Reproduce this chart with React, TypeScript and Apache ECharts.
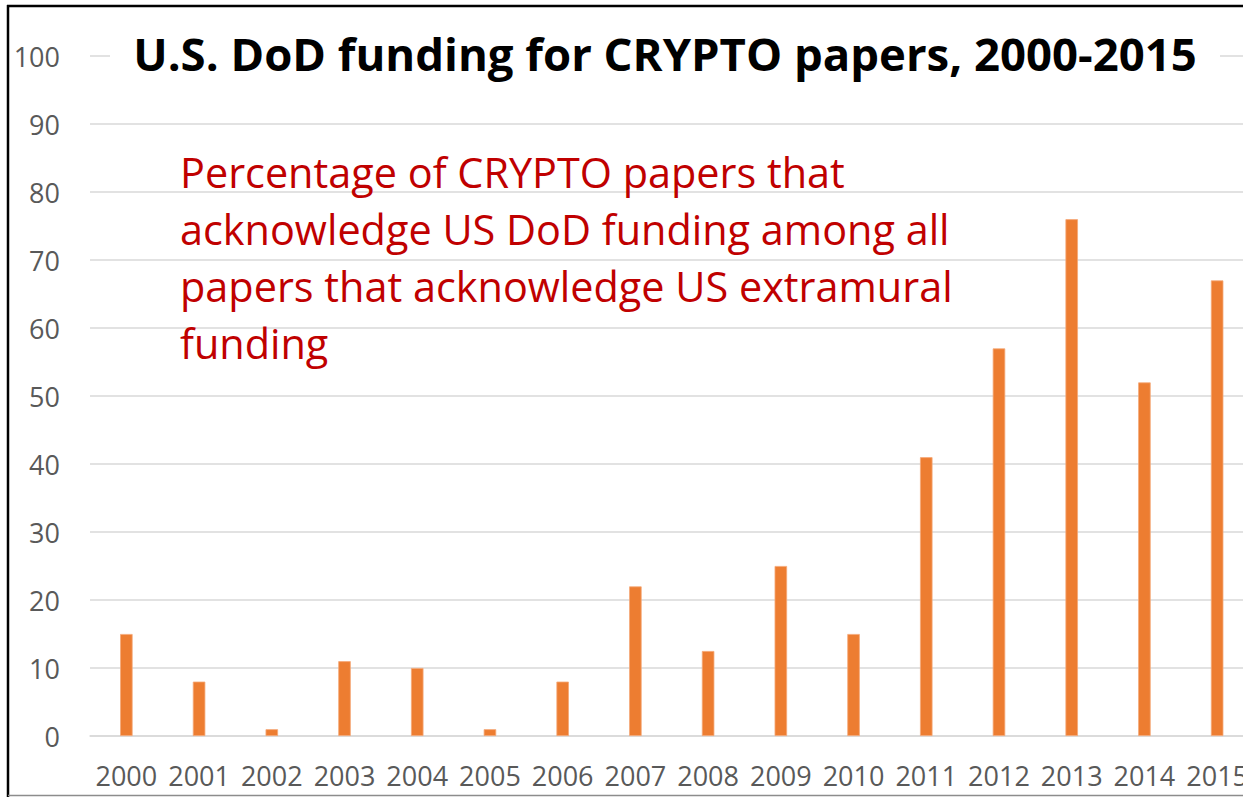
import React, { useEffect, useRef } from "react";
import * as echarts from "echarts";

const years = ["2000","2001","2002","2003","2004","2005","2006","2007","2008","2009","2010","2011","2012","2013","2014","2015"];
const values = [15, 8, 1, 11, 10, 1, 8, 22, 12.5, 25, 15, 41, 57, 76, 52, 67];
const titleText = "U.S. DoD funding for CRYPTO papers, 2000-2015";
const noteLines = [
  "Percentage of CRYPTO papers that",
  "acknowledge US DoD funding among all",
  "papers that acknowledge US extramural",
  "funding",
];

export default function App() {
  const ref = useRef<HTMLDivElement>(null);
  useEffect(() => {
    if (!ref.current) return;
    const chart = echarts.init(ref.current, null, { renderer: "svg" });
    const font = "'Open Sans', sans-serif";
    chart.setOption({
      animation: false,
      backgroundColor: "#ffffff",
      grid: { left: 90, top: 56, bottom: 61, right: 16.5 },
      xAxis: {
        type: "category",
        data: years,
        axisLine: { show: true, lineStyle: { color: "#d9d9d9", width: 1.5 } },
        axisTick: { show: false },
        axisLabel: { color: "#595959", fontSize: 27, fontFamily: font, margin: 26, interval: 0 },
      },
      yAxis: {
        type: "value",
        min: 0,
        max: 100,
        interval: 10,
        axisLine: { show: false },
        axisTick: { show: false },
        axisLabel: { color: "#595959", fontSize: 27, fontFamily: font, margin: 30 },
        splitLine: { lineStyle: { color: "#d9d9d9", width: 1.5 } },
      },
      series: [
        {
          type: "bar",
          data: values,
          barWidth: 12.5,
          itemStyle: { color: "#ED7D31", borderColor: "#F5A877", borderWidth: 0.8 },
        },
      ],
      graphic: [
        { type: "line", z: 100, shape: { x1: 8, y1: 5, x2: 8, y2: 797 }, style: { stroke: "#000", lineWidth: 2.5 } },
        { type: "line", z: 100, shape: { x1: 7, y1: 6, x2: 1270, y2: 6 }, style: { stroke: "#000", lineWidth: 2.5 } },
        { type: "line", z: 100, shape: { x1: 8, y1: 795.5, x2: 1270, y2: 795.5 }, style: { stroke: "#8c8c8c", lineWidth: 1.5 } },
        {
          type: "rect",
          z: 99,
          shape: { x: 110, y: 28, width: 1110, height: 52 },
          style: { fill: "#ffffff" },
        },
        {
          type: "text",
          z: 100,
          x: 665,
          y: 53,
          style: {
            text: titleText,
            fill: "#000",
            font: `bold 45.5px ${font}`,
            textAlign: "center",
            textVerticalAlign: "middle",
          },
        },
        {
          type: "text",
          z: 100,
          x: 180,
          y: 143,
          style: {
            text: noteLines.join("\n"),
            fill: "#C00000",
            font: `41.4px ${font}`,
            lineHeight: 57,
            textAlign: "left",
            textVerticalAlign: "top",
          },
        },
      ],
    });
    return () => chart.dispose();
  }, []);
  return (
    <div style={{ position: "absolute", left: 0, top: 0, width: 1243, height: 797, overflow: "hidden" }}>
      <div ref={ref} style={{ width: 1270, height: 797 }} />
    </div>
  );
}
